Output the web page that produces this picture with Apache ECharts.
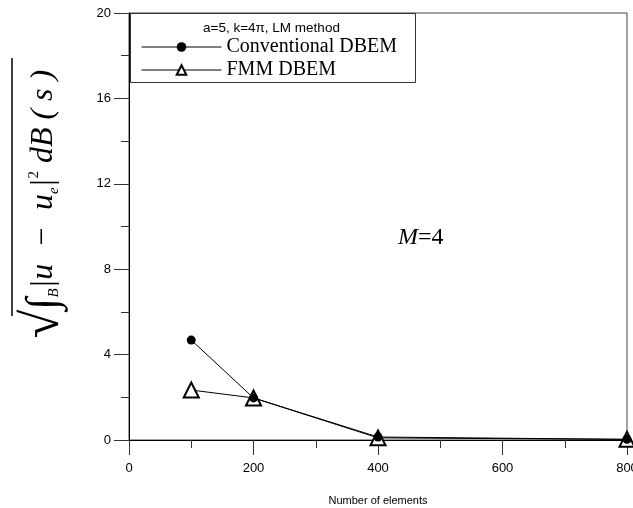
<!DOCTYPE html>
<html>
<head>
<meta charset="utf-8">
<script src="https://cdn.jsdelivr.net/npm/echarts@6/dist/echarts.min.js"></script>
<style>
  html, body { margin: 0; padding: 0; background: #fff; }
  #main { width: 633px; height: 508px; }
</style>
</head>
<body>
<div id="main"></div>
<script>
// number of elements
var elements = [100, 200, 400, 800];
// error values
var conventional = [4.68, 1.97, 0.14, 0.03];
var fmm = [2.34, 1.97, 0.1, 0.03];
var xTicks = [0, 200, 400, 600, 800];
var yTicks = [0, 4, 8, 12, 16, 20];

var toPairs = function(xs, ys){
    var out = [];
    for (var i = 0; i < xs.length; i++) out.push([xs[i], ys[i]]);
    return out;
};

var chart = echarts.init(document.getElementById('main'));
var serif = '"Liberation Serif", "DejaVu Serif", serif';
var sans = '"Liberation Sans", Arial, sans-serif';

var option = {
    backgroundColor: '#fff',
    animation: false,
    grid: {
        left: 129, right: 6, top: 13, bottom: 68,
        outerBoundsMode: 'none',
        show: true, borderColor: '#444', borderWidth: 1
    },
    legend: {
        orient: 'vertical',
        left: 136, top: 32,
        itemWidth: 80, itemHeight: 12, itemGap: 3,
        data: ['Conventional DBEM', 'FMM DBEM'],
        lineStyle: { width: 1 },
        textStyle: { fontFamily: serif, fontSize: 20, color: '#000', padding: [0, 0, 0, 0] }
    },
    xAxis: {
        type: 'value',
        min: xTicks[0], max: xTicks[xTicks.length - 1], interval: 200,
        name: 'Number of elements',
        nameLocation: 'middle', nameGap: 55,
        nameTextStyle: { fontFamily: sans, fontSize: 11, color: '#000' },
        axisLine: { lineStyle: { color: '#000', width: 1 } },
        axisTick: { length: 15, lineStyle: { color: '#333' } },
        minorTick: { show: true, splitNumber: 2, length: 8, lineStyle: { color: '#333' } },
        axisLabel: { margin: 22, fontFamily: sans, fontSize: 13, color: '#000' },
        splitLine: { show: false }
    },
    yAxis: {
        type: 'value',
        min: yTicks[0], max: yTicks[yTicks.length - 1], interval: 4,
        axisLine: { lineStyle: { color: '#000', width: 1 } },
        axisTick: { length: 15, lineStyle: { color: '#333' } },
        minorTick: { show: true, splitNumber: 2, length: 8, lineStyle: { color: '#333' } },
        axisLabel: { margin: 18, fontFamily: sans, fontSize: 13, color: '#000' },
        splitLine: { show: false }
    },
    graphic: [
        {   // legend box
            type: 'rect', left: 130, top: 13, z: 50,
            shape: { width: 285, height: 69 },
            style: { fill: 'rgba(0,0,0,0)', stroke: '#333', lineWidth: 1 }
        },
        {
            type: 'text', left: 203, top: 21, z: 50,
            style: { text: 'a=5, k=4\u03c0, LM method', font: '13.5px ' + sans, fill: '#000' }
        },
        {
            type: 'text', left: 398, top: 226, z: 50,
            style: {
                text: '{i|M}{r|=4}',
                rich: {
                    i: { fontFamily: serif, fontStyle: 'italic', fontSize: 24, fill: '#000' },
                    r: { fontFamily: serif, fontSize: 24, fill: '#000' }
                }
            }
        },
        {   // y axis label, rotated
            type: 'group', x: 44, y: 204, rotation: Math.PI / 2, z: 50,
            children: [
                {
                    type: 'text', x: 0, y: 0,
                    style: {
                        text: '{rad|\u221a}{int|\u222b}{sb|B}{t||u  \u2212  u}{sb|e}{t||}{sp|2}{t| dB ( s )}',
                        align: 'center', verticalAlign: 'middle',
                        rich: {
                            rad: { fontFamily: serif, fontSize: 52, fill: '#000' },
                            int: { fontFamily: serif, fontSize: 44, fill: '#000' },
                            t: { fontFamily: serif, fontStyle: 'italic', fontSize: 32, fill: '#000' },
                            sb: { fontFamily: serif, fontStyle: 'italic', fontSize: 15, fill: '#000', padding: [20, 0, 0, 0] },
                            sp: { fontFamily: serif, fontSize: 15, fill: '#000', padding: [0, 0, 20, 0] }
                        }
                    }
                },
                {
                    type: 'line',
                    shape: { x1: -112, y1: -32, x2: 146, y2: -32 },
                    style: { stroke: '#000', lineWidth: 1.5 }
                }
            ]
        }
    ],
    series: [
        {
            name: 'FMM DBEM',
            type: 'line',
            z: 2,
            data: toPairs(elements, fmm),
            symbol: 'triangle', symbolSize: 15,
            lineStyle: { color: '#000', width: 1 },
            itemStyle: { color: '#fff', borderColor: '#000', borderWidth: 2 }
        },
        {
            name: 'Conventional DBEM',
            type: 'line',
            z: 3,
            data: toPairs(elements, conventional),
            symbol: 'circle', symbolSize: 9,
            lineStyle: { color: '#000', width: 1 },
            itemStyle: { color: '#000', borderColor: '#000', borderWidth: 0 }
        }
    ]
};
chart.setOption(option);
</script>
</body>
</html>
